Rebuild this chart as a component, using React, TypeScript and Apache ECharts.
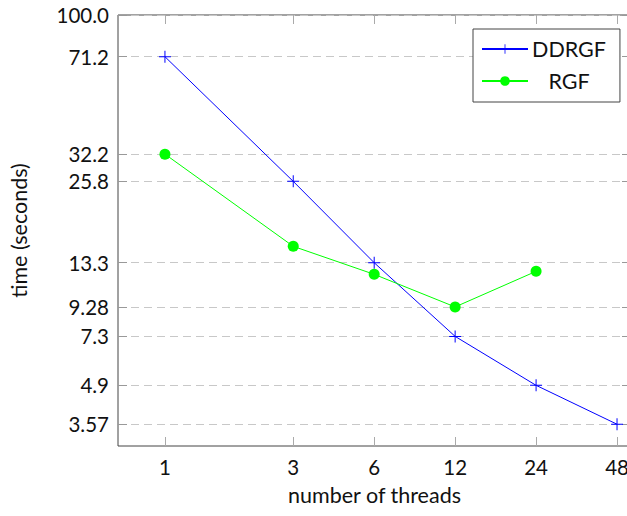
import React, { useEffect, useRef } from 'react';
import * as echarts from 'echarts';

const threads = [1, 3, 6, 12, 24, 48];
const ddrgf = [71.2, 25.8, 13.3, 7.3, 4.9, 3.57];
const rgfThreads = [1, 3, 6, 12, 24];
const rgf = [32.2, 15.2, 12.1, 9.28, 12.4];
const yTicks = [3.57, 4.9, 7.3, 9.28, 13.3, 25.8, 32.2, 71.2, 100];
const yTickLabels = ['3.57', '4.9', '7.3', '9.28', '13.3', '25.8', '32.2', '71.2', '100.0'];
const xTickLabels = ['1', '3', '6', '12', '24', '48'];

const FONT = 'Lato';
const TEXT = '#111';
const PLUS = 'path://M0,5.5H12V6.5H0Z M5.5,0H6.5V12H5.5Z';

function nearestLabel(v: number, ticks: number[], labels: string[]) {
  let best = 0;
  let bd = Infinity;
  ticks.forEach((t, i) => {
    const d = Math.abs(Math.log(v) - Math.log(t));
    if (d < bd) { bd = d; best = i; }
  });
  return labels[best];
}

export default function App() {
  const ref = useRef<HTMLDivElement>(null);
  useEffect(() => {
    if (!ref.current) return;
    const chart = echarts.init(ref.current, undefined, { renderer: 'svg' });
    const xCommon = {
      type: 'log' as const,
      logBase: 2,
      min: 0.669,
      max: 54.1,
      axisLine: { show: false },
      splitLine: { show: false },
    };
    const yCommon = {
      type: 'log' as const,
      min: 2.99,
      max: 100,
      axisLine: { show: false },
    };
    chart.setOption({
      animation: false,
      backgroundColor: '#fff',
      grid: {
        left: 117, top: 15, right: 69, bottom: 70,
        show: true, borderColor: '#444', borderWidth: 1,
      },
      legend: {
        data: ['DDRGF', 'RGF'],
        orient: 'vertical',
        left: 473, top: 29,
        padding: [9, 14, 10, 8],
        itemWidth: 46, itemHeight: 12, itemGap: 10,
        borderColor: '#444', borderWidth: 1, borderRadius: 0,
        backgroundColor: '#fff',
        formatter: '{a|{name}}',
        textStyle: {
          color: TEXT, fontFamily: FONT, fontSize: 21.5,
          rich: { a: { width: 72, align: 'center', color: TEXT, fontFamily: FONT, fontSize: 21.5 } },
        },
      },
      xAxis: [
        {
          ...xCommon,
          position: 'bottom',
          axisTick: { show: true, inside: true, length: 9, customValues: threads, lineStyle: { color: '#aaa' } },
          axisLabel: {
            customValues: threads,
            formatter: (v: number) => nearestLabel(v, threads, xTickLabels),
            fontSize: 20.5, fontFamily: FONT, color: TEXT, margin: 10,
          },
          name: 'number of threads',
          nameLocation: 'middle',
          nameGap: 38,
          nameTextStyle: { fontSize: 21.5, fontFamily: FONT, color: TEXT },
        },
        {
          ...xCommon,
          position: 'top',
          axisTick: { show: true, inside: true, length: 9, customValues: threads, lineStyle: { color: '#aaa' } },
          axisLabel: { show: false },
        },
      ],
      yAxis: [
        {
          ...yCommon,
          position: 'left',
          axisTick: { show: true, inside: true, length: 9, customValues: yTicks, lineStyle: { color: '#999' } },
          axisLabel: {
            customValues: yTicks,
            formatter: (v: number) => nearestLabel(v, yTicks, yTickLabels),
            fontSize: 20.5, fontFamily: FONT, color: TEXT, margin: 9,
          },
          splitLine: { show: true, lineStyle: { color: '#c8c8c8', type: [8, 5], width: 1 } },
          name: 'time (seconds)',
          nameLocation: 'middle',
          nameGap: 88,
          nameTextStyle: { fontSize: 21.5, fontFamily: FONT, color: TEXT },
        },
        {
          ...yCommon,
          position: 'right',
          axisTick: { show: true, inside: true, length: 9, customValues: yTicks, lineStyle: { color: '#999' } },
          axisLabel: { show: false },
          splitLine: { show: false },
        },
      ],
      series: [
        {
          name: 'DDRGF',
          type: 'line',
          xAxisIndex: 0,
          yAxisIndex: 0,
          data: threads.map((t, i) => [t, ddrgf[i]]),
          symbol: PLUS,
          symbolSize: 12,
          itemStyle: { color: '#0000ff' },
          lineStyle: { color: '#0000ff', width: 1 },
        },
        {
          name: 'RGF',
          type: 'line',
          xAxisIndex: 0,
          yAxisIndex: 0,
          data: rgfThreads.map((t, i) => [t, rgf[i]]),
          symbol: 'circle',
          symbolSize: 11,
          itemStyle: { color: '#00ff00' },
          lineStyle: { color: '#00ff00', width: 1 },
        },
      ],
    });
    return () => chart.dispose();
  }, []);
  return (
    <div
      ref={ref}
      style={{ position: 'fixed', left: 0, top: 0, width: 700, height: 516 }}
    />
  );
}
